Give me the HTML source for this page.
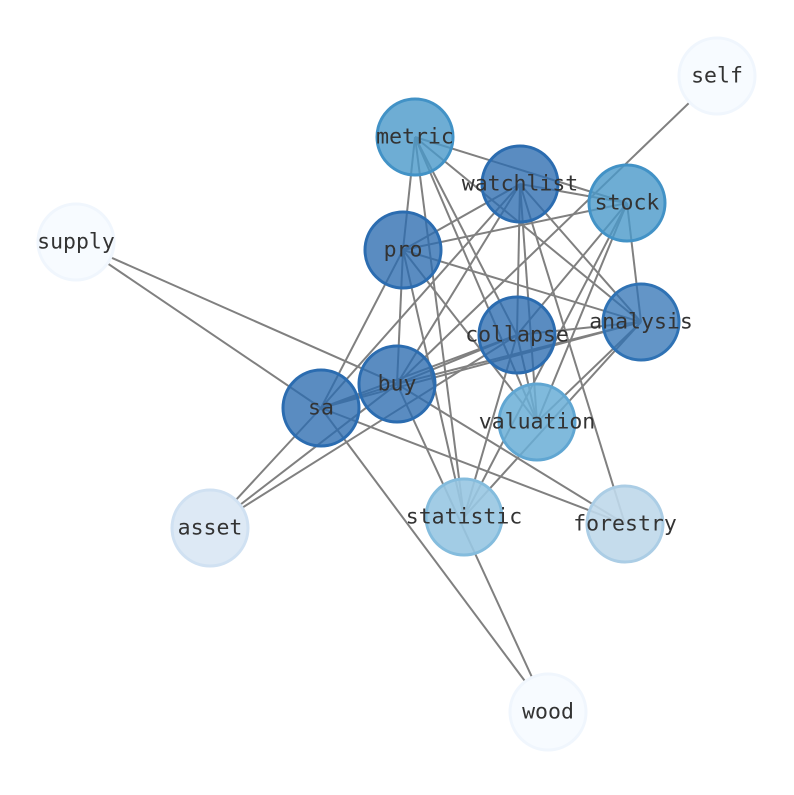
<!DOCTYPE html>
<html><head><style>body{margin:0;background:#fff}</style></head><body>
<svg width="794" height="790" xmlns="http://www.w3.org/2000/svg">
<g stroke="#808080" stroke-width="2">
<line x1="717" y1="76" x2="397" y2="384"/>
<line x1="415" y1="137" x2="403" y2="250"/>
<line x1="415" y1="137" x2="464" y2="517"/>
<line x1="415" y1="137" x2="537" y2="422"/>
<line x1="415" y1="137" x2="517" y2="335"/>
<line x1="415" y1="137" x2="627" y2="203"/>
<line x1="415" y1="137" x2="641" y2="322"/>
<line x1="520" y1="184" x2="403" y2="250"/>
<line x1="520" y1="184" x2="627" y2="203"/>
<line x1="520" y1="184" x2="397" y2="384"/>
<line x1="520" y1="184" x2="321" y2="408"/>
<line x1="520" y1="184" x2="517" y2="335"/>
<line x1="520" y1="184" x2="537" y2="422"/>
<line x1="520" y1="184" x2="625" y2="524"/>
<line x1="520" y1="184" x2="641" y2="322"/>
<line x1="627" y1="203" x2="403" y2="250"/>
<line x1="627" y1="203" x2="517" y2="335"/>
<line x1="627" y1="203" x2="641" y2="322"/>
<line x1="627" y1="203" x2="537" y2="422"/>
<line x1="627" y1="203" x2="464" y2="517"/>
<line x1="403" y1="250" x2="321" y2="408"/>
<line x1="403" y1="250" x2="397" y2="384"/>
<line x1="403" y1="250" x2="464" y2="517"/>
<line x1="403" y1="250" x2="537" y2="422"/>
<line x1="403" y1="250" x2="641" y2="322"/>
<line x1="76" y1="242" x2="397" y2="384"/>
<line x1="76" y1="242" x2="321" y2="408"/>
<line x1="321" y1="408" x2="397" y2="384"/>
<line x1="321" y1="408" x2="517" y2="335"/>
<line x1="321" y1="408" x2="641" y2="322"/>
<line x1="321" y1="408" x2="625" y2="524"/>
<line x1="321" y1="408" x2="548" y2="712"/>
<line x1="210" y1="528" x2="321" y2="408"/>
<line x1="210" y1="528" x2="517" y2="335"/>
<line x1="210" y1="528" x2="397" y2="384"/>
<line x1="397" y1="384" x2="548" y2="712"/>
<line x1="397" y1="384" x2="517" y2="335"/>
<line x1="397" y1="384" x2="641" y2="322"/>
<line x1="397" y1="384" x2="625" y2="524"/>
<line x1="464" y1="517" x2="641" y2="322"/>
<line x1="464" y1="517" x2="517" y2="335"/>
<line x1="537" y1="422" x2="517" y2="335"/>
<line x1="537" y1="422" x2="641" y2="322"/>
<line x1="517" y1="335" x2="641" y2="322"/>
</g>
<g stroke-width="3">
<circle cx="717" cy="76" r="38" fill="#f7fbff" stroke="#f0f6fd"/>
<circle cx="76" cy="242" r="38" fill="#f7fbff" stroke="#f0f6fd"/>
<circle cx="548" cy="712" r="38" fill="#f7fbff" stroke="#f0f6fd"/>
<circle cx="210" cy="528" r="38" fill="#dde9f5" stroke="#d0e1f2"/>
<circle cx="625" cy="524" r="38" fill="#bfd8ea" stroke="#abcde5" fill-opacity="0.9"/>
<circle cx="464" cy="517" r="38" fill="#98c6e2" stroke="#84bcdd" fill-opacity="0.9"/>
<circle cx="537" cy="422" r="38" fill="#6aaed6" stroke="#60a6d2" fill-opacity="0.85"/>
<circle cx="415" cy="137" r="38" fill="#4a98c9" stroke="#4292c6" fill-opacity="0.8"/>
<circle cx="627" cy="203" r="38" fill="#4a98c9" stroke="#4292c6" fill-opacity="0.8"/>
<circle cx="520" cy="184" r="38" fill="#2b6cb0" stroke="#2b6cb0" fill-opacity="0.78"/>
<circle cx="403" cy="250" r="38" fill="#2b6cb0" stroke="#2b6cb0" fill-opacity="0.78"/>
<circle cx="641" cy="322" r="38" fill="#2f72b4" stroke="#2f72b4" fill-opacity="0.75"/>
<circle cx="517" cy="335" r="38" fill="#2b6cb0" stroke="#2b6cb0" fill-opacity="0.78"/>
<circle cx="397" cy="384" r="38" fill="#2b6cb0" stroke="#2b6cb0" fill-opacity="0.78"/>
<circle cx="321" cy="408" r="38" fill="#2b6cb0" stroke="#2b6cb0" fill-opacity="0.78"/>
</g>
<g font-family="DejaVu Sans Mono, Liberation Mono, monospace" font-size="21.5" fill="#333" text-anchor="middle" dominant-baseline="central">
<text x="717" y="76">self</text>
<text x="415" y="137">metric</text>
<text x="520" y="184">watchlist</text>
<text x="627" y="203">stock</text>
<text x="76" y="242">supply</text>
<text x="403" y="250">pro</text>
<text x="641" y="322">analysis</text>
<text x="517" y="335">collapse</text>
<text x="397" y="384">buy</text>
<text x="321" y="408">sa</text>
<text x="537" y="422">valuation</text>
<text x="210" y="528">asset</text>
<text x="464" y="517">statistic</text>
<text x="625" y="524">forestry</text>
<text x="548" y="712">wood</text>
</g>
</svg>
</body></html>
